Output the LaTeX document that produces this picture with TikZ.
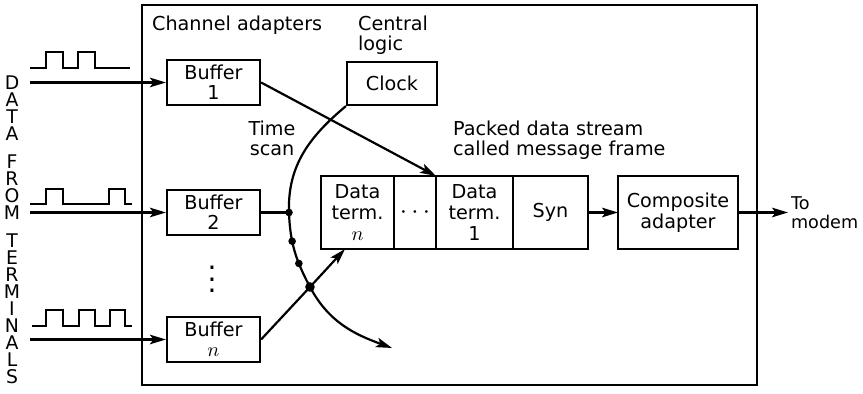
\documentclass[tikz,border=0pt]{standalone}
\usepackage{fontspec}
\setmainfont{DejaVu Sans}
\usepackage{tikz}
\usetikzlibrary{arrows.meta,positioning,calc}
\newcommand{\diagfont}{\fontsize{9.6}{10}\selectfont}

\begin{document}
\begin{tikzpicture}[x=5pt, y=5pt, line width=1.1pt,
  box/.style={draw, minimum width=46.5pt, minimum height=22.5pt,
              inner sep=0pt, align=center, font=\diagfont},
  cell/.style={draw, outer sep=0pt, minimum height=36.5pt, inner sep=0pt,
               align=center, font=\fontsize{9.6}{10.5}\selectfont},
  edge/.style={-{Stealth[length=8pt, width=4.8pt, inset=1.8pt]}},
  lbl/.style={inner sep=1pt, font=\diagfont},
  dot/.style={circle, fill, inner sep=0pt, minimum size=3.8pt}
]
  \useasboundingbox (0,0) rectangle (86.3,39.4);
  \draw (14.2,0.9) rectangle (75.7,38.9);

  \node[font=\fontsize{9.4}{8.5}\selectfont, align=center, inner sep=0pt] (dft) at (1.2,16.45)
    {D\\A\\T\\A\\[5.5pt]F\\R\\O\\M\\[5.5pt]T\\E\\R\\M\\I\\N\\A\\L\\S};

  \node[box] (b1) at (21.35,31.15) {Buffer\\1};
  \node[box] (b2) at (21.35,18.15) {Buffer\\2};
  \node[box] (bn) at (21.35,5.45) {Buffer\\$n$};
  \node[inner sep=0pt] (vd) at (21.2,12.3) {\scalebox{1.4}{$\vdots$}};
  \node[box, minimum width=45pt, minimum height=21.5pt] (clk) at (39.2,31.05) {Clock};

  \node[cell, minimum width=36.5pt] (dtn) at (35.75,18.15) {Data\\term.\\$n$};
  \node[cell, minimum width=21pt, right=0pt of dtn] (dd) {\scalebox{1.3}{$\cdots$}};
  \node[cell, minimum width=38.5pt, right=0pt of dd] (dt1) {Data\\term.\\1};
  \node[cell, minimum width=37.5pt, right=0pt of dt1] (syn) {Syn};
  \node[cell, minimum width=60pt] (comp) at (67.8,18.15) {Composite\\adapter};

  \node[lbl, anchor=west] (chad) at (14.9,36.9) {Channel adapters};
  \node[lbl, anchor=west, align=left] (cenlog) at (35.5,35.9) {Central\\logic};
  \node[lbl, align=center] (tscan) at (27.2,25.6) {Time\\scan};
  \node[lbl, anchor=west, align=left] (packed) at (45.0,25.4) {Packed data stream\\called message frame};
  \node[lbl, anchor=west, align=left, font=\fontsize{8.8}{9.6}\selectfont] (modem) at (78.8,18.15) {To\\modem};

  % pulse trains
  \draw (3.0,32.6) -- (4.6,32.6) |- (6.3,34.2) |- (7.8,32.6) |- (9.5,34.2) |- (13.0,32.6);
  \draw (3.0,19.0) -- (4.6,19.0) |- (6.3,20.5) |- (10.9,19.0) |- (12.5,20.5) |- (13.2,19.0);
  \draw (3.2,6.8) -- (4.6,6.8) |- (6.3,8.4) |- (7.9,6.8) |- (9.5,8.4) |- (11.0,6.8) |- (12.5,8.4) |- (13.2,6.8);

  \foreach \b/\y in {b1/31.15, b2/18.15, bn/5.45} {
    \coordinate (in-\b) at (3.0,\y);
    \draw[edge] (in-\b) -- (\b);
  }

  % time scan
  \coordinate (s1) at (28.9,18.15);
  \coordinate (s4) at (31.0,10.7);
  \coordinate (scanend) at (39.2,4.6);
  \draw[edge] (clk.south west) to[out=220, in=92] (s1)
    to[out=-88, in=118] node[dot, pos=0.36] (s2) {} node[dot, pos=0.68] (s3) {} (s4)
    to[out=-62, in=160] (scanend);
  \node[dot] (d1) at (s1) {};
  \node[dot, minimum size=4.8pt] (d4) at (s4) {};

  \draw (b2.east) -- (s1);
  \draw[edge] (bn.east) -- (s4) -- ($(dtn.south west)+(2.4,0)$);
  \draw[edge] (b1.east) -- (dt1.north west);
  \draw[edge] (syn) -- (comp);
  \draw[edge] (comp) -- (modem);
\end{tikzpicture}
\end{document}
